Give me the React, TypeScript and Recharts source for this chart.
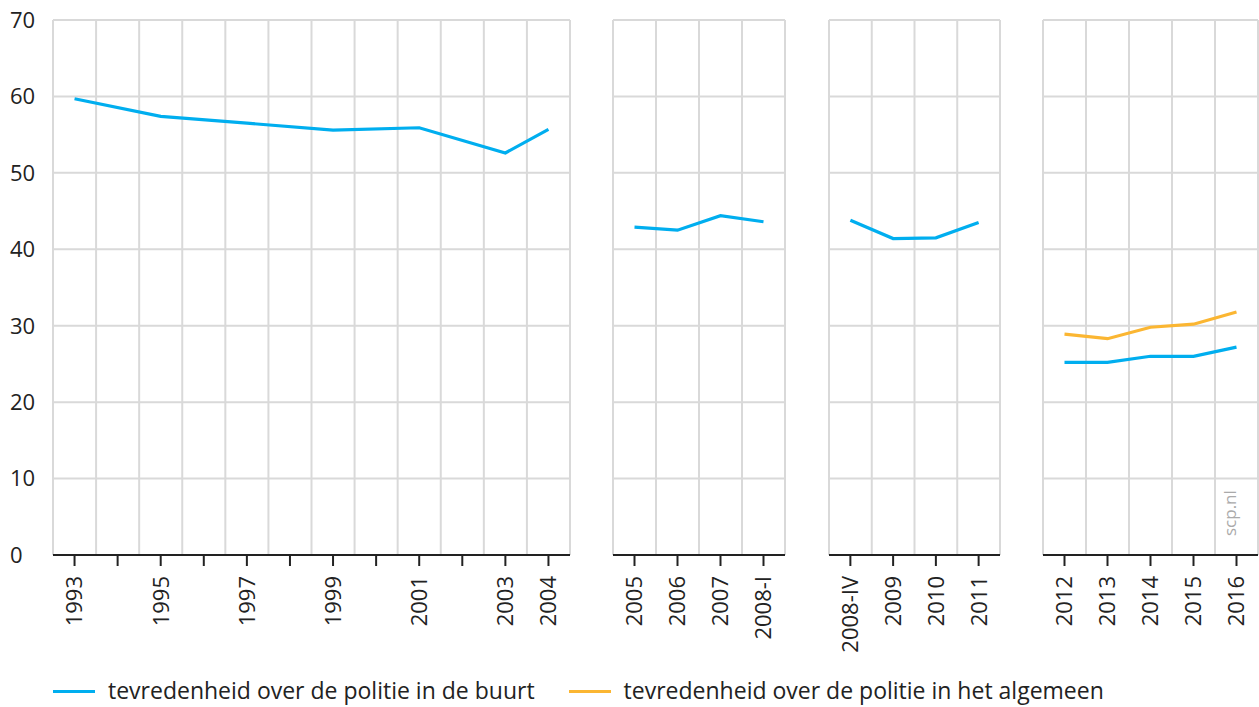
import React from 'react';
import { LineChart, Line, XAxis, YAxis, CartesianGrid } from 'recharts';

// ---- Data ----
const panel1Years = ['1993', '1994', '1995', '1996', '1997', '1998', '1999', '2000', '2001', '2002', '2003', '2004'];
const panel1Labels = ['1993', '1995', '1997', '1999', '2001', '2003', '2004'];
const panel1Buurt = [59.7, null, 57.4, null, 56.5, null, 55.6, null, 55.9, null, 52.6, 55.7];

const panel2Years = ['2005', '2006', '2007', '2008-I'];
const panel2Buurt = [42.9, 42.5, 44.4, 43.6];

const panel3Years = ['2008-IV', '2009', '2010', '2011'];
const panel3Buurt = [43.8, 41.4, 41.5, 43.5];

const panel4Years = ['2012', '2013', '2014', '2015', '2016'];
const panel4Buurt = [25.2, 25.2, 26.0, 26.0, 27.2];
const panel4Algemeen = [28.9, 28.3, 29.8, 30.2, 31.8];

const yTicks = [0, 10, 20, 30, 40, 50, 60, 70];
const seriesNames = ['tevredenheid over de politie in de buurt', 'tevredenheid over de politie in het algemeen'];
const BLUE = '#00aeef';
const ORANGE = '#fbb632';
const seriesColors = [BLUE, ORANGE];

const FONT = '"Open Sans", "Noto Sans", sans-serif';
const TEXT = '#222';
const GRID = '#d9d9d9';

const bandGrid = (n: number) => (props: any) => {
  const o = props.offset || {};
  const left = o.left ?? 0;
  const w = o.width ?? 0;
  return Array.from({ length: n + 1 }, (_, i) => left + (i * w) / n);
};

const XTick = (props: any) => {
  const { x, y, payload, labels } = props;
  const v = String(payload.value);
  const show = !labels || labels.includes(v);
  return (
    <g transform={`translate(${x},${y + 10}) rotate(-90)`}>
      <text x={0} y={0} dy="0.36em" textAnchor="end" fill={TEXT} fontSize={22} fontFamily={FONT}>
        {show ? v : ''}
      </text>
    </g>
  );
};

const YTick = (props: any) => {
  const { y, payload } = props;
  return (
    <text x={10} y={y} dy="0.36em" textAnchor="start" fill={TEXT} fontSize={22} fontFamily={FONT}>
      {payload.value}
    </text>
  );
};

type PanelProps = {
  left: number;
  width: number;
  categories: string[];
  labels?: string[];
  buurt: (number | null)[];
  algemeen?: (number | null)[];
  showY?: boolean;
  mLeft: number;
  mRight: number;
};

const Panel = ({ left, width, categories, labels, buurt, algemeen, showY, mLeft, mRight }: PanelProps) => {
  const data = categories.map((c, i) => ({
    cat: c,
    buurt: buurt[i],
    algemeen: algemeen ? algemeen[i] : null,
  }));
  return (
    <div style={{ position: 'absolute', left, top: 0 }}>
      <LineChart width={width} height={707} data={data} margin={{ top: 20, right: mRight, bottom: 52, left: mLeft }}>
        <CartesianGrid
          stroke={GRID}
          strokeWidth={2}
          verticalCoordinatesGenerator={bandGrid(categories.length)}
        />
        <XAxis
          dataKey="cat"
          type="category"
          scale="band"
          interval={0}
          height={100}
          axisLine={{ stroke: TEXT, strokeWidth: 2 }}
          tickLine={{ stroke: TEXT, strokeWidth: 2 }}
          tickSize={11}
          tickMargin={0}
          tick={<XTick labels={labels} />}
        />
        <YAxis
          domain={[0, 70]}
          ticks={yTicks}
          type="number"
          hide={!showY}
          width={showY ? 53 : 0}
          axisLine={false}
          tickLine={false}
          tick={<YTick />}
        />
        <Line
          dataKey="buurt"
          stroke={BLUE}
          strokeWidth={3.2}
          dot={false}
          connectNulls
          isAnimationActive={false}
        />
        {algemeen && (
          <Line
            dataKey="algemeen"
            stroke={ORANGE}
            strokeWidth={3.2}
            dot={false}
            connectNulls
            isAnimationActive={false}
          />
        )}
      </LineChart>
    </div>
  );
};

export default function App() {
  return (
    <div
      style={{
        position: 'absolute',
        left: 0,
        top: 0,
        width: 1259,
        height: 707,
        background: '#fff',
        overflow: 'hidden',
        fontFamily: FONT,
      }}
    >
      <Panel left={0} width={572} categories={panel1Years} labels={panel1Labels} buurt={panel1Buurt} showY mLeft={0} mRight={2} />
      <Panel left={611} width={176} categories={panel2Years} buurt={panel2Buurt} mLeft={2} mRight={2} />
      <Panel left={827} width={175} categories={panel3Years} buurt={panel3Buurt} mLeft={2} mRight={2} />
      <Panel left={1041} width={218} categories={panel4Years} buurt={panel4Buurt} algemeen={panel4Algemeen} mLeft={2} mRight={1} />

      <svg style={{ position: 'absolute', left: 0, top: 0 }} width={1259} height={707} pointerEvents="none">
        <text
          transform="translate(1236,536) rotate(-90)"
          x={0}
          y={0}
          textAnchor="start"
          fill="#aaa"
          fontSize={17}
          fontFamily={FONT}
        >
          scp.nl
        </text>
      </svg>

      <div style={{ position: 'absolute', left: 53, top: 677, height: 26, display: 'flex', alignItems: 'center' }}>
        {seriesNames.map((name, i) => (
          <div key={name} style={{ display: 'flex', alignItems: 'center', marginRight: i === 0 ? 34 : 0 }}>
            <div style={{ width: 42, height: 3, background: seriesColors[i], marginRight: 13, marginTop: 3 }} />
            <span style={{ fontSize: 23, lineHeight: '26px', color: TEXT, fontFamily: FONT, whiteSpace: 'nowrap' }}>{name}</span>
          </div>
        ))}
      </div>
    </div>
  );
}
